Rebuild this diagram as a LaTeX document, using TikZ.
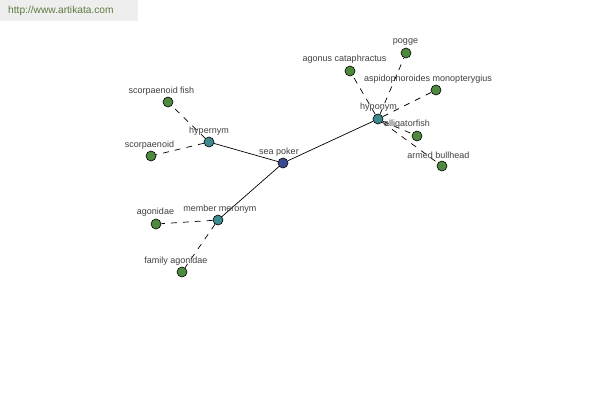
\documentclass[tikz,border=0pt]{standalone}
\usepackage{fontspec}
\setmainfont{Liberation Sans}
\begin{document}
\begin{tikzpicture}[x=1pt,y=-1pt,
  leaf/.style={circle,draw=black,fill=leafgreen,minimum size=10pt,inner sep=0pt,line width=0.6pt},
  hub/.style={circle,draw=black,fill=hubteal,minimum size=10pt,inner sep=0pt,line width=0.6pt},
  root/.style={circle,draw=black,fill=rootblue,minimum size=10pt,inner sep=0pt,line width=0.6pt},
  lbl/.style={font=\fontsize{9}{10}\selectfont,text=labelgray,inner sep=0pt},
  solidedge/.style={draw=black,line width=0.7pt},
  dashededge/.style={draw=black,line width=0.7pt,dash pattern=on 6pt off 6pt}]
\definecolor{leafgreen}{HTML}{4E8A3E}
\definecolor{hubteal}{HTML}{3F8A8E}
\definecolor{rootblue}{HTML}{3A4A90}
\definecolor{labelgray}{HTML}{404040}
\definecolor{headgray}{HTML}{EEEEEE}
\definecolor{headtext}{HTML}{5E7A3E}
\useasboundingbox[fill=white] (0,0) rectangle (600,400);
\fill[headgray] (0,0) rectangle (138,21);
\node[anchor=west,font=\fontsize{10.2}{12}\selectfont,text=headtext,inner sep=0pt] (url) at (8,11) {http://www.artikata.com};
% nodes
\node[root] (sp) at (283,163) {};
\node[hub] (hyper) at (209,142) {};
\node[hub] (mero) at (218,220) {};
\node[hub] (hypo) at (378,119) {};
\node[leaf] (sf) at (168,102) {};
\node[leaf] (sc) at (151,156) {};
\node[leaf] (ag) at (156,224) {};
\node[leaf] (fa) at (182,272) {};
\node[leaf] (ac) at (350,71) {};
\node[leaf] (po) at (406,53) {};
\node[leaf] (am) at (436,90) {};
\node[leaf] (al) at (417,136) {};
\node[leaf] (ab) at (442,166) {};
% edges
\path[solidedge] (sp) -- (hyper);
\path[solidedge] (sp) -- (mero);
\path[solidedge] (sp) -- (hypo);
\path[dashededge] (hyper) -- (sf);
\path[dashededge] (hyper) -- (sc);
\path[dashededge] (mero) -- (ag);
\path[dashededge] (mero) -- (fa);
\path[dashededge] (hypo) -- (ac);
\path[dashededge] (hypo) -- (po);
\path[dashededge] (hypo) -- (am);
\path[dashededge] (hypo) -- (al);
\path[dashededge] (hypo) -- (ab);
% labels
\node[lbl] (lsp) at (279,152) {sea poker};
\node[lbl] (lhyper) at (209,131) {hypernym};
\node[lbl] (lmero) at (220,209) {member meronym};
\node[lbl] (lhypo) at (378.5,107) {hyponym};
\node[lbl] (lsf) at (161.5,91) {scorpaenoid fish};
\node[lbl] (lsc) at (149.5,145) {scorpaenoid};
\node[lbl] (lag) at (155.5,212) {agonidae};
\node[lbl] (lfa) at (176,261) {family agonidae};
\node[lbl] (lac) at (344.5,59) {agonus cataphractus};
\node[lbl] (lpo) at (405.5,42) {pogge};
\node[lbl] (lam) at (428,79) {aspidophoroides monopterygius};
\node[lbl] (lal) at (407,124) {alligatorfish};
\node[lbl] (lab) at (438.5,155) {armed bullhead};
\end{tikzpicture}
\end{document}
